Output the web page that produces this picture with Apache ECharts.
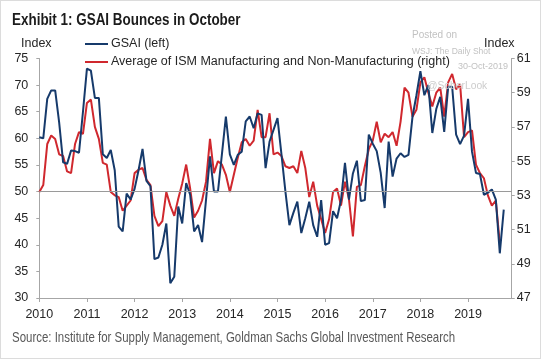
<!DOCTYPE html>
<html>
<head>
<meta charset="utf-8">
<script src="https://cdn.jsdelivr.net/npm/echarts@6/dist/echarts.min.js"></script>
<style>
html,body{margin:0;padding:0;background:#fff;}
#wrap{position:relative;width:541px;height:359px;box-sizing:border-box;border:1px solid #dcdcdc;background:#fff;}
#chart{position:absolute;left:-1px;top:-1px;width:541px;height:359px;}
</style>
</head>
<body>
<div id="wrap"><div id="chart"></div></div>
<script>
// ---- data ----
const startYear = 2010;
const endYear = 2019;
const leftTicks = [30, 35, 40, 45, 50, 55, 60, 65, 70, 75];
const rightTicks = [47, 49, 51, 53, 55, 57, 59, 61];

// GSAI (left), monthly Jan 2010 - Oct 2019
const gsai = [
  60.2, 60.0, 67.4, 69.0, 69.0, 63.0, 55.5, 55.2, 57.7, 57.6,
  57.3, 65.0, 73.1, 72.7, 67.6, 67.6, 57.0, 56.3, 57.8, 54.0,
  43.4, 42.5, 49.6, 48.5, 50.5, 54.0, 58.0, 52.0, 51.0, 37.3,
  37.6, 40.0, 44.0, 32.8, 34.0, 47.2, 44.0, 51.6, 49.4, 42.5,
  43.7, 40.5, 48.5, 56.6, 50.0, 50.0, 57.0, 64.1, 57.0, 55.0,
  56.9, 57.5, 63.2, 64.1, 61.9, 64.7, 64.4, 54.4, 59.4, 61.6,
  63.8, 57.0, 50.0, 43.7, 46.0, 48.1, 42.2, 45.0, 48.1, 43.7,
  41.5, 48.4, 40.0, 40.3, 46.3, 45.0, 48.4, 55.4, 48.5, 53.4,
  55.8, 48.2, 48.4, 60.7, 59.0, 57.6, 53.5, 46.9, 59.4, 52.8,
  56.2, 57.2, 56.5, 56.9, 64.0, 68.1, 72.6, 68.1, 70.0, 61.0,
  65.5, 67.8, 61.2, 69.7, 69.7, 60.7, 58.9, 60.5, 67.4, 57.5,
  53.5, 53.3, 49.4, 49.8, 50.4, 48.5, 38.4, 46.6
];

// Average of ISM Manufacturing and Non-Manufacturing (right), Jan 2010 - Sep 2019
const ismAvg = [
  53.2, 53.6, 56.0, 56.5, 56.3, 55.4, 55.3, 54.4, 54.3, 56.0,
  56.7, 56.6, 58.4, 58.6, 57.0, 56.3, 54.9, 54.8, 53.2, 53.0,
  52.9, 52.1, 52.4, 52.7, 54.3, 54.5, 54.6, 53.9, 53.6, 51.8,
  51.2, 51.5, 53.2, 52.4, 51.8, 52.8, 53.7, 54.8, 53.4, 51.7,
  52.1, 52.7, 53.8, 56.3, 54.3, 55.0, 54.8, 54.2, 53.2, 54.2,
  55.2, 56.1, 56.3, 55.9, 56.2, 58.0, 56.4, 56.4, 57.8, 55.4,
  55.5, 55.3, 54.7, 54.6, 54.7, 54.3, 55.6, 54.6, 52.9, 53.8,
  52.4, 51.6, 50.8, 51.6, 53.2, 53.4, 52.4, 53.8, 52.8, 50.6,
  53.5, 53.6, 54.7, 55.7, 56.2, 57.3, 56.1, 56.6, 56.4, 56.7,
  55.9, 57.3, 59.3, 59.0, 57.6, 58.0, 59.6, 59.9, 59.0, 58.2,
  59.0, 59.3, 57.6, 59.6, 60.1, 59.2, 59.5, 56.4, 56.7, 56.8,
  54.8, 54.3, 54.0, 53.0, 52.4, 52.7, 50.2
];

const refLevel = 50;

const seriesNames = ['GSAI (left)', 'Average of ISM Manufacturing and Non-Manufacturing (right)'];
const titleText = 'Exhibit 1: GSAI Bounces in October';
const sourceText = 'Source: Institute for Supply Management, Goldman Sachs Global Investment Research';

// monthly categories Jan 2010 .. Dec 2019
const months = [];
for (let y = startYear; y <= endYear; y++) {
  for (let m = 1; m <= 12; m++) months.push(y + '-' + (m < 10 ? '0' + m : m));
}

const BLUE = '#163a6b';
const RED = '#d0282e';
const AX = '#a6a6a6';
const TXT = '#262626';
const FONT = 'Liberation Sans, Arial, sans-serif';
const WM = '#c2c2c2';

function txt(x, y, text, size, color, opts) {
  opts = opts || {};
  return {
    type: 'text', x: x, y: y, scaleX: opts.scaleX || 1, silent: true, z: 10,
    style: {text: text, fontSize: size, fontFamily: FONT, fontWeight: opts.bold ? 'bold' : 'normal',
      fill: color, textAlign: opts.align || 'left', textVerticalAlign: 'middle'}
  };
}

const chart = echarts.init(document.getElementById('chart'), null, {renderer: 'canvas'});
chart.setOption({
  animation: false,
  backgroundColor: 'transparent',
  textStyle: {fontFamily: FONT},
  graphic: [
    txt(12, 21, titleText, 16, '#1c1c1c', {bold: true, scaleX: 0.84}),
    txt(21, 44, 'Index', 12.5, TXT),
    txt(484, 44, 'Index', 12.5, TXT),
    txt(12, 338, sourceText, 14.5, '#595959', {scaleX: 0.79}),
    txt(412, 35, 'Posted on', 10, WM),
    txt(412, 51.5, 'WSJ: The Daily Shot', 8.5, WM),
    txt(458, 66.5, '30-Oct-2019', 9, WM),
    txt(427, 86.5, '@SoberLook', 10.3, '#cdcdcd')
  ],
  legend: {
    orient: 'vertical', left: 85, top: 36.5, padding: 0, itemWidth: 23, itemHeight: 2, itemGap: 3,
    icon: 'rect',
    textStyle: {fontSize: 12.5, color: TXT, lineHeight: 15, padding: [0, 0, 0, -2]},
    data: seriesNames
  },
  grid: {left: 39.3, right: 29.3, top: 58.5, bottom: 61, containLabel: false},
  xAxis: {
    type: 'category', data: months, boundaryGap: false,
    axisLine: {lineStyle: {color: AX, width: 1}},
    axisTick: {show: true, length: 4, lineStyle: {color: AX}, interval: function (i) { return i % 12 === 0; }},
    axisLabel: {interval: function (i) { return i % 12 === 0; }, formatter: function (v) { return v.slice(0, 4); },
      color: TXT, fontSize: 12.5, margin: 10},
    splitLine: {show: false}
  },
  yAxis: [
    {type: 'value', min: leftTicks[0], max: leftTicks[leftTicks.length - 1], interval: 5, position: 'left',
     axisLine: {show: true, lineStyle: {color: AX}},
     axisTick: {show: true, length: 3, lineStyle: {color: AX}},
     axisLabel: {color: TXT, fontSize: 12.5, margin: 11},
     splitLine: {show: false}},
    {type: 'value', min: rightTicks[0], max: rightTicks[rightTicks.length - 1], interval: 2, position: 'right',
     axisLine: {show: true, lineStyle: {color: AX}},
     axisTick: {show: true, length: 3, lineStyle: {color: AX}},
     axisLabel: {color: TXT, fontSize: 12.5, margin: 5},
     splitLine: {show: false}}
  ],
  series: [
    {name: seriesNames[0], type: 'line', yAxisIndex: 0, data: gsai, showSymbol: false, symbol: 'none',
     lineStyle: {color: BLUE, width: 2}, itemStyle: {color: BLUE}, z: 3,
     markLine: {silent: true, symbol: 'none', label: {show: false},
       lineStyle: {color: '#9a9a9a', width: 1, type: 'solid'}, data: [{yAxis: refLevel}]}},
    {name: seriesNames[1], type: 'line', yAxisIndex: 1, data: ismAvg,
     showSymbol: false, symbol: 'none', lineStyle: {color: RED, width: 2}, itemStyle: {color: RED}, z: 2}
  ]
});
</script>
</body>
</html>
